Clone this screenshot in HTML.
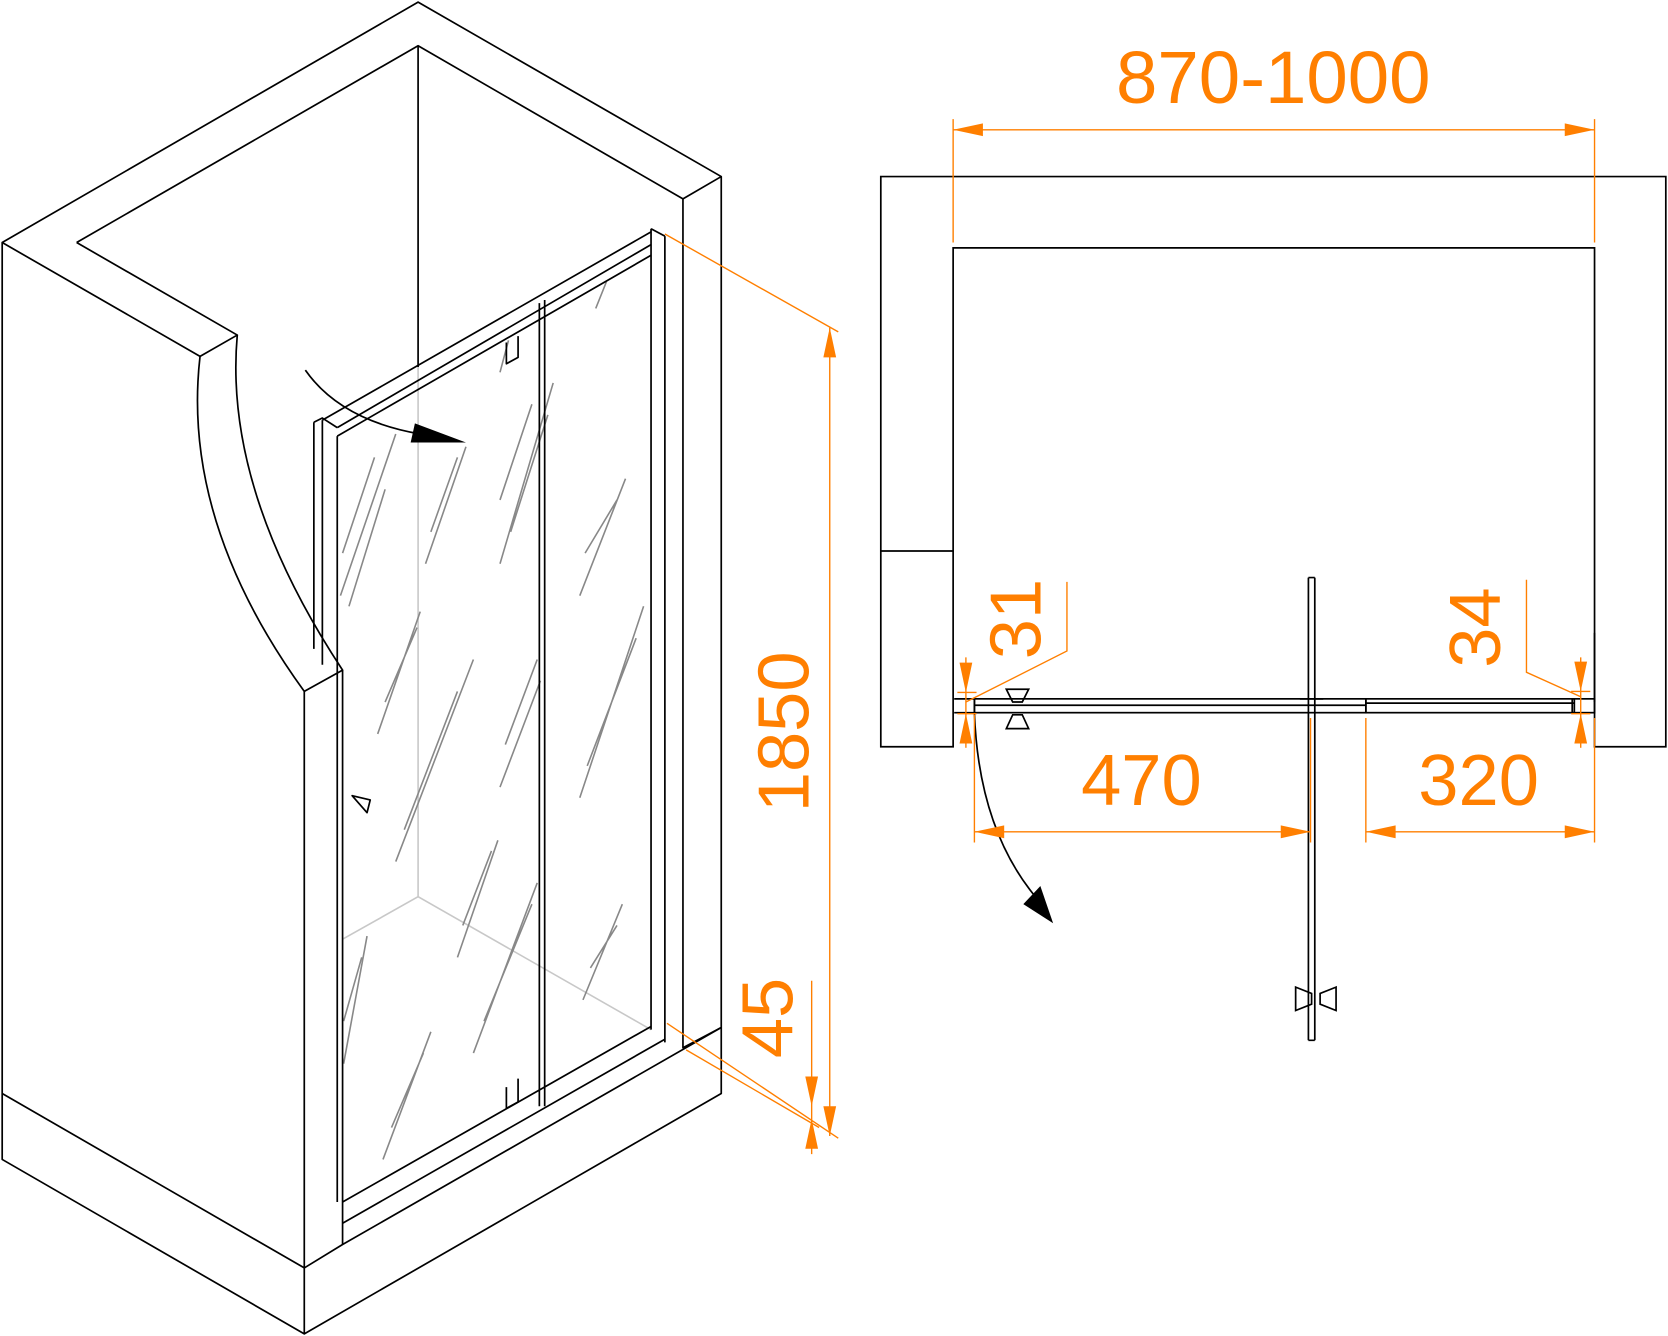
<!DOCTYPE html>
<html><head><meta charset="utf-8"><style>
html,body{margin:0;padding:0;background:#fff;}
svg{display:block;}
text{font-family:"Liberation Sans",sans-serif;fill:#ff7f00;}
</style></head><body>
<svg width="1668" height="1336" viewBox="0 0 1568 1256" xmlns="http://www.w3.org/2000/svg">
<!-- gray interior -->
<g stroke="#c8c8c8" stroke-width="1.5" fill="none">
<path d="M393,345 V843 M322,883 L393,843 L612,968"/>
</g>
<!-- glass hatching -->
<g stroke="#888" stroke-width="1.5">
<path d="M320,560 L372,408 M328,570 L362,460 M322,520 L352,430 M400,530 L438,420 M405,500 L430,430 M470,530 L520,360 M480,500 L515,390 M470,470 L500,380 M355,690 L395,575 M362,660 L392,590 M372,810 L445,620 M380,780 L430,650 M470,740 L508,640 M475,700 L505,620 M430,900 L468,790 M435,870 L462,800 M445,990 L505,830 M455,960 L500,850 M360,1090 L405,970 M368,1060 L398,990 M545,560 L588,450 M550,520 L580,470 M545,750 L605,570 M552,720 L598,600 M548,940 L585,850 M555,910 L580,870 M323,1000 L345,880 M323,960 L340,900 M470,350 L478,320 M560,290 L570,265"/>
</g>
<!-- left iso drawing -->
<g stroke="#000" stroke-width="1.6" fill="none" stroke-linejoin="round">
<path d="M2,228 L393,2 L678,166 V1028 L286,1254 L2,1090 Z"/>
<path d="M72,228 L393,43 L642,187 L678,166"/>
<path d="M393,43 V345"/>
<path d="M2,228 L188,335 L223,315 L72,228"/>
<path d="M2,1028 L286,1192 V1254"/>
<path d="M286,1192 L322,1170 M322,1170 L678,966"/>
<path d="M642,187 V985 L678,966"/>
<path d="M188,335 Q170,490 286,650 V1192"/>
<path d="M223,315 Q210,460 322,630 L286,650"/>
<path d="M322,630 V1170"/>
<path d="M295,397 V610 M303,395 V625 M295,397 L303,393 L317,402"/>
<path d="M303,395 L612,218 M317,410 L612,240 M317,402 L612,230 M317,410 V1130"/>
<path d="M612,215 V968 M625,222 V980 M612,215 L625,222"/>
<path d="M322,1130 L612,965 M322,1150 L625,977"/>
<path d="M507,285 V1040 M512,282 V1040"/>
<path d="M476,322 V342 L487,336 V316 M476,1022 V1042 L487,1036 V1014"/>
<path d="M287,348 Q320,395 395,408"/>
<path d="M331,748 L348,752 L345,764 Z"/>
</g>
<path d="M390,398 L438,416 L386,416 Z" fill="#000"/>
<!-- orange left dims -->
<g stroke="#ff7f00" stroke-width="1.3" fill="none">
<path d="M625,220 L788,312 M627,962 L788,1070 M645,987 L770,1060"/>
<path d="M780,308 V1068"/>
<path d="M763,922 V1085"/>
</g>
<g fill="#ff7f00">
<path d="M780,308 L774,336 L786,336 Z M780,1068 L774,1040 L786,1040 Z"/>
<path d="M763,1040 L757,1012 L769,1012 Z M763,1052 L757,1080 L769,1080 Z"/>
</g>
<text transform="translate(760,688) rotate(-90)" font-size="68" text-anchor="middle">1850</text>
<text transform="translate(745,957) rotate(-90)" font-size="68" text-anchor="middle">45</text>
<!-- right plan -->
<g stroke="#000" stroke-width="1.6" fill="none">
<path d="M828,166 H1566 V702 H1499 V233 H896 V702 H828 Z"/>
<path d="M828,518 H896 M1499,595 V660"/>
<path d="M897,657 H916 V670 H897"/>
<rect x="916" y="657" width="368" height="13"/>
<path d="M916,663 H1284"/>
<rect x="1284" y="657" width="196" height="13"/>
<path d="M1284,661 H1480"/>
<rect x="1478" y="657" width="21" height="13"/>
<path d="M1230,543 V978 M1236,543 V978 M1230,543 H1236 M1230,978 H1236 M1222,657 H1244"/>
<path d="M946,648 H967 L961,660 H952 Z M946,685 H967 L961,672 H952 Z"/>
<path d="M1218,928 L1233,934 V944 L1218,950 Z M1256,928 L1241,934 V944 L1256,950 Z"/>
<path d="M916,670 Q920,780 975,845"/>
</g>
<path d="M962,850 L990,868 L978,833 Z" fill="#000"/>
<g stroke="#ff7f00" stroke-width="1.3" fill="none">
<path d="M896,112 V228 M1499,112 V228"/>
<path d="M896,122 H1499"/>
<path d="M916,672 V792 M1232,675 V792 M1284,675 V792 M1499,675 V792"/>
<path d="M916,782 H1232"/>
<path d="M1284,782 H1499"/>
<path d="M908,618 V703"/>
<path d="M900,651 H918 M900,671 H918 M908,660 L1003,612 V547"/>
<path d="M1486,618 V703"/>
<path d="M1477,650 H1495 M1477,671 H1495 M1486,655 L1435,632 V545"/>
</g>
<g fill="#ff7f00">
<path d="M896,122 L924,116 L924,128 Z M1499,122 L1471,116 L1471,128 Z"/>
<path d="M916,782 L944,776 L944,788 Z M1232,782 L1204,776 L1204,788 Z"/>
<path d="M1284,782 L1312,776 L1312,788 Z M1499,782 L1471,776 L1471,788 Z"/>
<path d="M908,651 L902,623 L914,623 Z M908,671 L902,699 L914,699 Z"/>
<path d="M1486,650 L1480,622 L1492,622 Z M1486,671 L1480,699 L1492,699 Z"/>
</g>
<text x="1197" y="97" font-size="70" text-anchor="middle">870-1000</text>
<text x="1073" y="757" font-size="68" text-anchor="middle">470</text>
<text x="1390" y="757" font-size="68" text-anchor="middle">320</text>
<text transform="translate(978,582) rotate(-90)" font-size="68" text-anchor="middle">31</text>
<text transform="translate(1410,590) rotate(-90)" font-size="68" text-anchor="middle">34</text>
</svg>
</body></html>
